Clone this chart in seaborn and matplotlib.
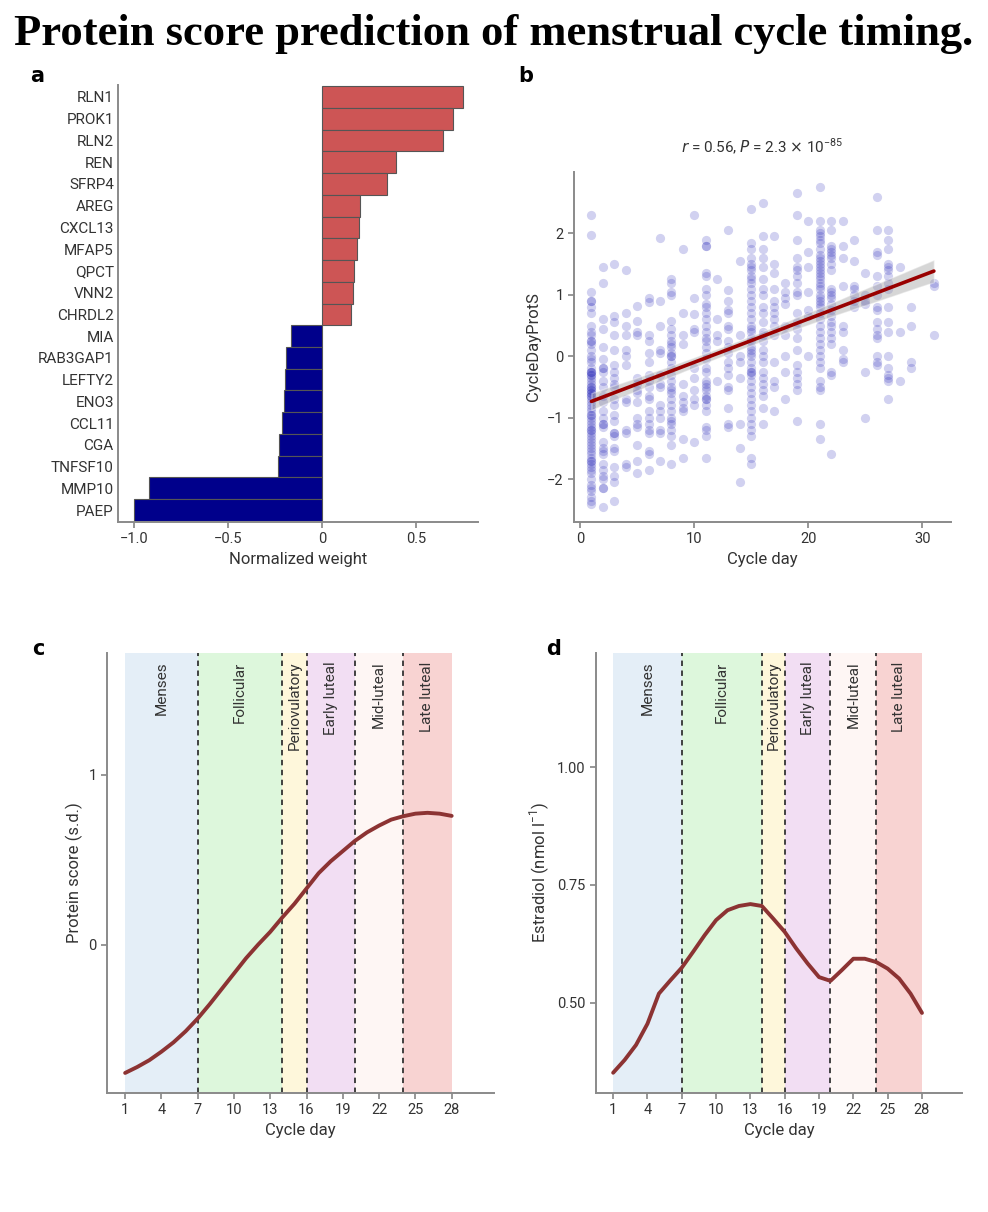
import numpy as np
import pandas as pd
import matplotlib
matplotlib.use("Agg")
import matplotlib.pyplot as plt
import seaborn as sns

# ---------------- data ----------------
genes = ["RLN1", "PROK1", "RLN2", "REN", "SFRP4", "AREG", "CXCL13", "MFAP5", "QPCT", "VNN2",
         "CHRDL2", "MIA", "RAB3GAP1", "LEFTY2", "ENO3", "CCL11", "CGA", "TNFSF10", "MMP10", "PAEP"]
weights = [0.75, 0.695, 0.644, 0.394, 0.344, 0.202, 0.197, 0.184, 0.170, 0.163,
           0.154, -0.167, -0.193, -0.197, -0.204, -0.215, -0.227, -0.236, -0.919, -1.0]

scatter_days = {
    1: [2.3, 1.98, 1.05, 0.9, 0.9, 0.8, 0.7, 0.5, 0.4, 0.35, 0.25, 0.25, 0.2, 0.1, 0.0, -0.05, -0.1,
        -0.2, -0.25, -0.25, -0.25, -0.3, -0.3, -0.35, -0.4, -0.45, -0.5, -0.5, -0.55, -0.55, -0.6,
        -0.6, -0.65, -0.65, -0.7, -0.75, -0.8, -0.85, -0.9, -0.95, -0.95, -1.0, -1.05, -1.1, -1.15,
        -1.2, -1.2, -1.25, -1.3, -1.35, -1.4, -1.45, -1.5, -1.55, -1.6, -1.65, -1.7, -1.7, -1.75,
        -1.8, -1.85, -1.9, -2.0, -2.1, -2.15, -2.2, -2.3, -2.35, -2.4],
    2: [1.45, 1.2, 0.6, 0.45, 0.15, -0.05, -0.2, -0.2, -0.25, -0.4, -0.5, -0.65, -0.75, -0.9, -1.0,
        -1.1, -1.1, -1.15, -1.4, -1.5, -1.55, -1.6, -1.75, -1.85, -1.95, -2.0, -2.15, -2.15, -2.45],
    3: [1.5, 0.65, 0.55, 0.35, 0.1, -0.15, -0.25, -0.35, -0.45, -0.5, -0.7, -0.8, -0.95, -1.05,
        -1.25, -1.25, -1.3, -1.5, -1.55, -1.8, -1.95, -2.05, -2.35],
    4: [1.4, 0.7, 0.5, 0.35, 0.1, 0.0, -0.15, -0.7, -0.75, -1.2, -1.25, -1.75, -1.8],
    5: [0.82, 0.58, 0.4, 0.35, -0.35, -0.45, -0.55, -0.6, -0.75, -1.0, -1.1, -1.15, -1.45, -1.7, -1.9],
    6: [0.95, 0.88, 0.35, 0.25, 0.05, -0.1, -0.3, -0.4, -0.5, -0.65, -0.7, -0.9, -1.0, -1.1, -1.2,
        -1.25, -1.55, -1.6, -1.85],
    7: [1.92, 0.9, 0.5, 0.1, 0.05, -0.3, -0.45, -0.5, -0.8, -0.9, -1.0, -1.2, -1.25, -1.7],
    8: [1.25, 1.2, 1.05, 1.0, 0.58, 0.45, 0.35, 0.25, 0.2, 0.15, 0.05, 0.0, 0.0, -0.1, -0.2, -0.3,
        -0.4, -0.5, -0.55, -0.6, -0.7, -0.8, -0.9, -1.0, -1.05, -1.1, -1.2, -1.3, -1.45, -1.75],
    9: [1.75, 0.7, 0.35, 0.2, -0.45, -0.65, -0.75, -0.85, -0.9, -1.35, -1.65],
    10: [2.3, 0.95, 0.68, 0.45, 0.4, -0.2, -0.35, -0.55, -0.7, -0.8, -1.4],
    11: [1.9, 1.8, 1.8, 1.35, 1.3, 1.1, 1.0, 0.85, 0.8, 0.7, 0.6, 0.5, 0.4, 0.3, 0.25, 0.15, 0.05,
         -0.05, -0.2, -0.25, -0.4, -0.45, -0.5, -0.55, -0.65, -0.7, -0.7, -0.8, -0.9, -1.15, -1.2,
         -1.3, -1.65],
    12: [1.25, 0.6, 0.35, 0.25, -0.4],
    13: [2.05, 1.08, 0.9, 0.75, 0.7, 0.5, 0.45, 0.25, 0.15, 0.05, -0.1, -0.2, -0.3, -0.5, -0.55,
         -0.85, -1.1, -1.15],
    14: [1.55, 0.35, 0.0, -0.1, -0.35, -1.1, -1.5, -2.05],
    15: [2.4, 1.85, 1.75, 1.6, 1.5, 1.45, 1.4, 1.3, 1.25, 1.2, 1.1, 1.0, 0.9, 0.8, 0.7, 0.6, 0.5,
         0.45, 0.4, 0.3, 0.25, 0.15, 0.1, 0.05, 0.0, -0.1, -0.2, -0.25, -0.25, -0.3, -0.4, -0.5,
         -0.6, -0.7, -0.8, -0.9, -1.0, -1.1, -1.2, -1.3, -1.65, -1.75],
    16: [2.5, 1.95, 1.75, 1.6, 1.45, 1.25, 1.1, 1.0, 0.8, 0.7, 0.55, 0.4, 0.35, 0.25, 0.1, 0.0,
         -0.1, -0.25, -0.35, -0.45, -0.55, -0.65, -0.85, -1.1],
    17: [1.95, 1.5, 1.35, 1.1, 0.9, 0.8, 0.7, 0.6, 0.5, 0.35, -0.1, -0.4, -0.5, -0.9],
    18: [1.2, 1.05, 0.95, 0.85, 0.5, 0.35, 0.0, -0.25, -0.7],
    19: [2.65, 2.3, 1.9, 1.6, 1.45, 1.4, 1.3, 1.2, 1.05, 1.0, 0.7, 0.55, 0.45, 0.3, 0.1, -0.15,
         -0.25, -0.35, -0.45, -0.55, -1.05],
    20: [2.2, 1.7, 1.45, 1.05, 0.75, 0.65, 0.0],
    21: [2.75, 2.2, 2.05, 2.0, 1.95, 1.9, 1.85, 1.75, 1.65, 1.6, 1.55, 1.5, 1.45, 1.4, 1.35, 1.3,
         1.25, 1.2, 1.15, 1.1, 1.0, 0.95, 0.9, 0.85, 0.8, 0.7, 0.6, 0.5, 0.4, 0.3, 0.2, 0.1, 0.0,
         -0.1, -0.2, -0.4, -0.5, -0.55, -1.1, -1.35],
    22: [2.2, 2.05, 1.8, 1.75, 1.7, 1.65, 1.6, 1.5, 1.4, 1.1, 1.05, 1.0, 0.95, 0.85, 0.75, 0.65,
         0.55, 0.5, 0.4, 0.3, 0.2, -0.25, -0.3, -1.6],
    23: [2.2, 1.8, 1.6, 1.15, 0.5, 0.4, 0.1, -0.05, -0.1],
    24: [1.9, 1.55, 1.15, 1.1, 1.0, 0.9, 0.8],
    25: [1.35, 1.0, 0.9, 0.85, -0.25, -1.0],
    26: [2.6, 2.05, 1.7, 1.65, 1.3, 1.15, 1.0, 0.8, 0.75, 0.55, 0.45, 0.35, 0.3, 0.0, -0.1, -0.15],
    27: [2.05, 1.9, 1.75, 1.5, 1.45, 1.4, 1.3, 1.2, 1.1, 0.8, 0.55, 0.4, 0.0, -0.2, -0.3, -0.35,
         -0.4, -0.7],
    28: [1.45, 0.4, -0.4],
    29: [0.8, 0.5, -0.1, -0.2],
    31: [1.2, 1.15, 0.35],
}

cycle_days = list(range(1, 29))
protein_score = [-0.755, -0.72, -0.68, -0.63, -0.575, -0.51, -0.435, -0.35, -0.26, -0.17,
                 -0.08, 0.0, 0.075, 0.16, 0.24, 0.33, 0.42, 0.49, 0.55, 0.61,
                 0.66, 0.70, 0.735, 0.755, 0.77, 0.775, 0.77, 0.757]
estradiol = [0.351, 0.378, 0.41, 0.455, 0.519, 0.547, 0.574, 0.608, 0.643, 0.675,
             0.696, 0.705, 0.709, 0.705, 0.678, 0.65, 0.615, 0.583, 0.554, 0.546,
             0.569, 0.593, 0.593, 0.586, 0.572, 0.551, 0.519, 0.478]

phase_names = ["Menses", "Follicular", "Periovulatory", "Early luteal", "Mid-luteal", "Late luteal"]
phase_starts = [1, 7, 14, 16, 20, 24]
phase_ends = [7, 14, 16, 20, 24, 28]
phase_colors = ["#E4EEF7", "#DDF7DC", "#FEF7DB", "#F2DEF3", "#FEF6F4", "#F8D3D2"]

# ---------------- style ----------------
sns.set_theme(style="ticks")
plt.rcParams["font.family"] = ["Roboto", "DejaVu Sans"]
plt.rcParams["axes.edgecolor"] = "#8a8a8a"
plt.rcParams["axes.linewidth"] = 1.4
plt.rcParams["xtick.color"] = "#8a8a8a"
plt.rcParams["ytick.color"] = "#8a8a8a"
plt.rcParams["xtick.labelcolor"] = "#333333"
plt.rcParams["ytick.labelcolor"] = "#333333"
plt.rcParams["xtick.major.size"] = 4
plt.rcParams["ytick.major.size"] = 4
plt.rcParams["axes.labelcolor"] = "#333333"

W, H = 988, 1212
fig = plt.figure(figsize=(W / 100, H / 100), dpi=100)

def ax_at(l, r, t, b):
    return fig.add_axes([l / W, 1 - b / H, (r - l) / W, (b - t) / H])

tick_fs = 10.5
label_fs = 12

# ---------------- panel a ----------------
axa = ax_at(118, 478, 85, 522)
df_a = pd.DataFrame({"gene": genes, "weight": weights})
df_a["sign"] = np.where(df_a["weight"] > 0, "pos", "neg")
sns.barplot(data=df_a, x="weight", y="gene", hue="sign", dodge=False, width=1.0, saturation=1,
            palette={"pos": "#CD5555", "neg": "#00008B"}, edgecolor="#555555",
            linewidth=0.8, legend=False, ax=axa, orient="h")
axa.set_xlim(-1.085, 0.83)
axa.set_ylim(len(genes) - 0.45, -0.55)
axa.set_xticks([-1.0, -0.5, 0, 0.5])
axa.set_xticklabels(["\u22121.0", "\u22120.5", "0", "0.5"])
axa.set_xlabel("Normalized weight", fontsize=label_fs)
axa.set_ylabel("")
axa.tick_params(axis="x", labelsize=tick_fs)
axa.tick_params(axis="y", labelsize=tick_fs + 0.5, length=0, pad=3)
sns.despine(ax=axa)

# ---------------- panel b ----------------
axb = ax_at(574, 951, 172, 522)
xs, ys = [], []
for d, vals in scatter_days.items():
    xs += [d] * len(vals)
    ys += vals
df_b = pd.DataFrame({"Cycle day": xs, "CycleDayProtS": ys})
sns.regplot(data=df_b, x="Cycle day", y="CycleDayProtS", ax=axb, truncate=True,
            scatter_kws=dict(s=44, color="#1a1ab4", alpha=0.2, linewidths=0),
            line_kws=dict(color="#990000", lw=2.6))
for coll in axb.collections[1:]:
    coll.set_facecolor("#9a9a9a")
    coll.set_alpha(0.4)
axb.set_xlim(-0.53, 32.5)
axb.set_ylim(-2.7, 3.0)
axb.set_xticks([0, 10, 20, 30])
axb.set_yticks([-2, -1, 0, 1, 2])
axb.set_yticklabels(["\u22122", "\u22121", "0", "1", "2"])
axb.tick_params(labelsize=tick_fs)
axb.set_xlabel("Cycle day", fontsize=label_fs)
axb.set_ylabel("CycleDayProtS", fontsize=label_fs)
axb.set_title(r"$r$ = 0.56, $P$ = 2.3 $\times$ 10$^{\mathregular{-85}}$", fontsize=11,
              color="#333333", pad=14)
sns.despine(ax=axb)

# ---------------- panels c, d ----------------
def phase_panel(ax, values, ylim, yticks, yticklabels, ylabel):
    for s, e, c in zip(phase_starts, phase_ends, phase_colors):
        ax.axvspan(s, e, color=c, lw=0, zorder=0)
    for s in phase_starts[1:]:
        ax.axvline(s, color="#333333", ls=(0, (3, 2.5)), lw=1.3, zorder=1)
    df = pd.DataFrame({"Cycle day": cycle_days, "v": values})
    sns.lineplot(data=df, x="Cycle day", y="v", ax=ax, color="#8C3333", lw=2.8, zorder=3)
    ax.set_xlim(-0.5, 31.5)
    ax.set_ylim(*ylim)
    top = ylim[1] - (ylim[1] - ylim[0]) * 0.02
    for name, s, e in zip(phase_names, phase_starts, phase_ends):
        ax.text((s + e) / 2, top, name, rotation=90, ha="center", va="top",
                fontsize=11, color="#333333", zorder=4)
    ax.set_xticks([1, 4, 7, 10, 13, 16, 19, 22, 25, 28])
    ax.set_yticks(yticks)
    ax.set_yticklabels(yticklabels)
    ax.tick_params(labelsize=tick_fs)
    ax.set_xlabel("Cycle day", fontsize=label_fs)
    ax.set_ylabel(ylabel, fontsize=label_fs)
    sns.despine(ax=ax)

axc = ax_at(107, 494, 653, 1093)
phase_panel(axc, protein_score, (-0.873, 1.715), [0, 1], ["0", "1"], "Protein score (s.d.)")

axd = ax_at(596, 962, 653, 1093)
phase_panel(axd, estradiol, (0.308, 1.242), [0.5, 0.75, 1.0], ["0.50", "0.75", "1.00"],
            "Estradiol (nmol l$^{\\mathregular{-1}}$)")

# ---------------- title and panel letters ----------------
fig.text(0.5, 1 - 34 / H, "Protein score prediction of menstrual cycle timing.",
         ha="center", va="center", fontsize=32, fontweight="bold", color="black",
         family=["Liberation Serif", "DejaVu Serif"])
for letter, x, y in [("a", 30, 76), ("b", 518, 76), ("c", 32, 649), ("d", 546, 649)]:
    fig.text(x / W, 1 - y / H, letter, fontsize=15, fontweight="heavy", ha="left", va="center",
             color="black", family=["DejaVu Sans", "Liberation Sans"])

fig.savefig("out.png", dpi=100)
